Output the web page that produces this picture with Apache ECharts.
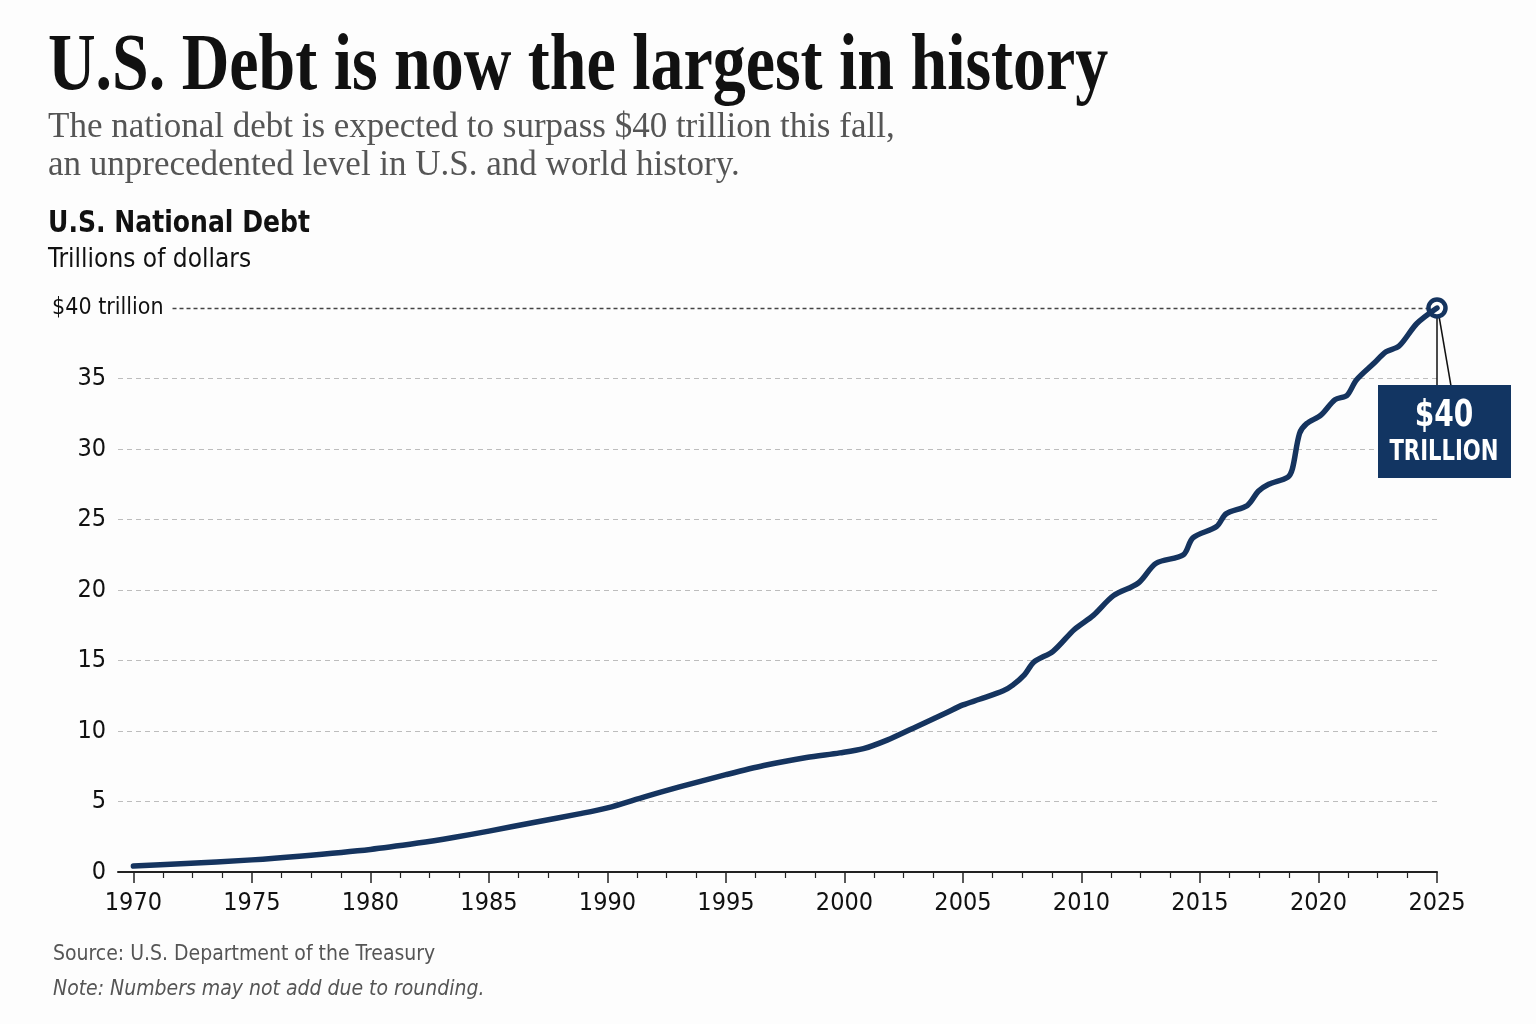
<!DOCTYPE html>
<html>
<head>
<meta charset="utf-8">
<script src="https://cdn.jsdelivr.net/npm/echarts@6/dist/echarts.min.js"></script>
<style>
  html, body { margin: 0; padding: 0; background: #fdfdfd; }
  #chart { width: 1536px; height: 1024px; }
</style>
</head>
<body>
<div id="chart"></div>
<script>
// data (trillions of dollars)
var years = [1970, 1972, 1975, 1977, 1980, 1982, 1983.5, 1985, 1987, 1988.8, 1990,
  1991.6, 1993, 1995, 1996.6, 1998.4, 1999.8, 2000.8, 2001.8, 2002.9, 2004.3,
  2005, 2005.7, 2006.7, 2007.1, 2007.6, 2008, 2008.8, 2009.7, 2010.5, 2011.35,
  2012.4, 2013.15, 2014.3, 2014.7, 2015.7, 2016.1, 2017, 2017.46, 2017.9, 2018.7,
  2018.9, 2019.2, 2019.5, 2020.1, 2020.7, 2021.2, 2021.6, 2022.35, 2022.85,
  2023.4, 2024.15, 2025];
var debt = [0.42, 0.58, 0.86, 1.12, 1.6, 2.05, 2.45, 2.9, 3.55, 4.12, 4.55,
  5.35, 6.02, 6.9, 7.55, 8.12, 8.45, 8.75, 9.35, 10.2, 11.3,
  11.85, 12.25, 12.85, 13.25, 14.0, 14.9, 15.65, 17.2, 18.2, 19.6,
  20.5, 21.9, 22.5, 23.7, 24.5, 25.4, 26.0, 27.0, 27.5, 28.0,
  28.6, 31.1, 31.8, 32.4, 33.5, 33.8, 34.9, 36.1, 36.9,
  37.3, 38.9, 40];
var yearTicks = [1970, 1975, 1980, 1985, 1990, 1995, 2000, 2005, 2010, 2015, 2020, 2025];

var navy = '#15345f';
var boxColor = '#123562';
var sansNarrow = "'DejaVu Sans Condensed', 'Liberation Sans Narrow', Roboto, sans-serif";
var serif = '"Liberation Serif", "DejaVu Serif", serif';

// minor ticks: four steps between each labelled year
var minorTicks = [];
for (var i = 0; i < yearTicks.length - 1; i++) {
  for (var k = 1; k < 4; k++) {
    minorTicks.push(yearTicks[i] + k * (yearTicks[i + 1] - yearTicks[i]) / 4);
  }
}

var seriesData = years.map(function (y, i) { return [y, debt[i]]; });
var lastPoint = seriesData[seriesData.length - 1];

var chart = echarts.init(document.getElementById('chart'));

chart.setOption({
  backgroundColor: '#fdfdfd',
  animation: false,
  grid: { left: 118, right: 99, top: 308, bottom: 152 },
  xAxis: [
    {
      type: 'value',
      min: 1969.35,
      max: 2025,
      axisLine: { show: true, lineStyle: { color: '#222', width: 2 } },
      axisTick: { show: true, customValues: yearTicks, length: 11, lineStyle: { color: '#222', width: 1.5 } },
      axisLabel: {
        customValues: yearTicks,
        formatter: function (v) { return String(v); },
        fontFamily: sansNarrow,
        fontSize: 25,
        color: '#111',
        margin: 19
      },
      splitLine: { show: false }
    },
    {
      type: 'value',
      min: 1969.35,
      max: 2025,
      position: 'bottom',
      axisLine: { show: false },
      axisTick: { show: true, customValues: minorTicks, length: 6, lineStyle: { color: '#222', width: 1.2 } },
      axisLabel: { show: false },
      splitLine: { show: false }
    }
  ],
  yAxis: {
    type: 'value',
    min: 0,
    max: 40,
    interval: 5,
    axisLine: { show: false },
    axisTick: { show: false },
    axisLabel: {
      fontFamily: sansNarrow,
      fontSize: 25,
      color: '#111',
      margin: 12,
      formatter: function (v) { return v === 40 ? '' : String(v); }
    },
    splitLine: {
      show: true,
      showMinLine: false,
      showMaxLine: false,
      lineStyle: { color: '#bdbdbd', width: 1.2, type: [5, 4] }
    }
  },
  series: [
    {
      type: 'line',
      data: seriesData,
      showSymbol: false,
      smooth: 0.3,
      lineStyle: { color: navy, width: 5.5, cap: 'round', join: 'round' },
      z: 5,
      markLine: {
        silent: true,
        symbol: 'none',
        lineStyle: { color: '#444', width: 1.3, type: [4, 3] },
        label: {
          show: true,
          position: 'start',
          distance: 9,
          formatter: '$40 trillion',
          fontFamily: sansNarrow,
          fontSize: 23,
          color: '#111'
        },
        data: [[{ coord: [1971.65, 40] }, { coord: lastPoint }]]
      },
      markPoint: {
        silent: true,
        symbol: 'circle',
        symbolSize: 17,
        itemStyle: { color: '#fff', borderColor: navy, borderWidth: 4.5 },
        label: { show: false },
        data: [{ coord: lastPoint }]
      }
    }
  ]
});

// texts plus the callout box hanging below the last point
var p = chart.convertToPixel({ seriesIndex: 0 }, lastPoint);
chart.setOption({
  graphic: [
    {
      id: 'title', type: 'text', x: 48, y: 28, scaleX: 0.824, originX: 0,
      style: { text: 'U.S. Debt is now the largest in history', font: 'bold 80px ' + serif, fill: '#111' }
    },
    {
      id: 'sub1', type: 'text', x: 48, y: 110,
      style: { text: 'The national debt is expected to surpass $40 trillion this fall,', font: '35px ' + serif, fill: '#555' }
    },
    {
      id: 'sub2', type: 'text', x: 48, y: 148,
      style: { text: 'an unprecedented level in U.S. and world history.', font: '35px ' + serif, fill: '#555' }
    },
    {
      id: 'chartTitle', type: 'text', x: 48, y: 209, scaleX: 0.93, originX: 0,
      style: { text: 'U.S. National Debt', font: 'bold 30px ' + sansNarrow, fill: '#111' }
    },
    {
      id: 'unit', type: 'text', x: 48, y: 247,
      style: { text: 'Trillions of dollars', font: '26px ' + sansNarrow, fill: '#111' }
    },
    {
      id: 'source', type: 'text', x: 53, y: 944,
      style: { text: 'Source: U.S. Department of the Treasury', font: '21px ' + sansNarrow, fill: '#555' }
    },
    {
      id: 'note', type: 'text', x: 53, y: 979,
      style: { text: 'Note: Numbers may not add due to rounding.', font: 'italic 21px ' + sansNarrow, fill: '#555' }
    },
    { id: 'lead1', type: 'line', shape: { x1: p[0], y1: p[1] + 8, x2: p[0], y2: p[1] + 78 }, style: { stroke: '#111', lineWidth: 1.5 } },
    { id: 'lead2', type: 'line', shape: { x1: p[0] + 2, y1: p[1] + 8, x2: p[0] + 14, y2: p[1] + 78 }, style: { stroke: '#111', lineWidth: 1.5 } },
    { id: 'box', type: 'rect', shape: { x: p[0] - 59, y: p[1] + 77, width: 133, height: 93 }, style: { fill: boxColor } },
    {
      id: 'boxBig', type: 'text', x: p[0] + 7, y: p[1] + 108, scaleX: 0.82,
      style: { text: '$40', font: 'bold 38px ' + sansNarrow, fill: '#fff', textAlign: 'center', textVerticalAlign: 'middle' }
    },
    {
      id: 'boxSmall', type: 'text', x: p[0] + 7, y: p[1] + 145, scaleX: 0.84,
      style: { text: 'TRILLION', font: 'bold 28px ' + sansNarrow, fill: '#fff', textAlign: 'center', textVerticalAlign: 'middle' }
    }
  ]
});
</script>
</body>
</html>
